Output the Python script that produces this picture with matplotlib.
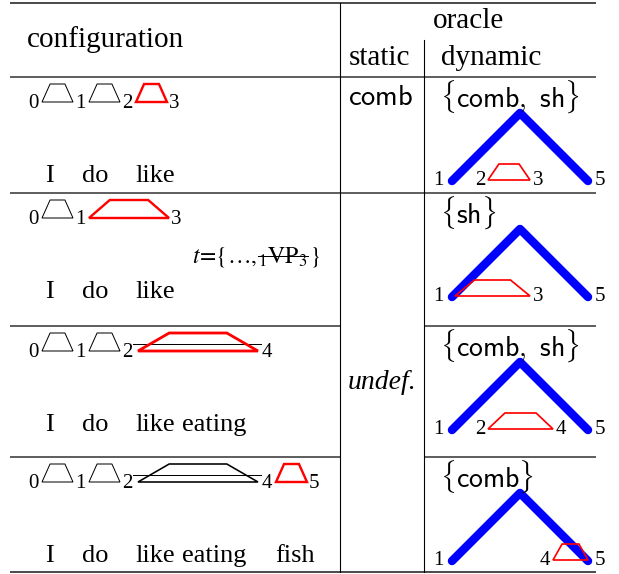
import matplotlib
matplotlib.use("Agg")
import matplotlib.pyplot as plt
from matplotlib.patches import Polygon

# ---------------- data ----------------
header_config = "configuration"
header_oracle = "oracle"
header_sub = ["static", "dynamic"]
words = ["I", "do", "like", "eating", "fish"]
row_word_counts = [3, 3, 4, 5]
# stack / buffer items of each configuration: (start, end, style)
config_items = [
    [(0, 1, "black"), (1, 2, "black"), (2, 3, "red")],
    [(0, 1, "black"), (1, 3, "red")],
    [(0, 1, "black"), (1, 2, "black"), (2, 4, "gap+red")],
    [(0, 1, "black"), (1, 2, "black"), (2, 4, "gap"), (4, 5, "red")],
]
row2_t_parts = [r"$t\!=\!\{\ldots,$", r"${}_{1}\mathrm{VP}_{3}$", r"$\}$"]
static_oracle = ["comb", "undef."]          # row 1 / rows 2-4
dynamic_oracle = [["comb", "sh"], ["sh"], ["comb", "sh"], ["comb"]]
dynamic_span = [(2, 3), (1, 3), (2, 4), (4, 5)]
tent_span = (1, 5)

# ---------------- layout ----------------
W, H = 619, 574
row_tops = [77, 193, 326, 457]
y_top_rule, y_bottom = 2.5, 572
x_left, x_right = 10, 596
x_v1, x_v2 = 340, 424
word_x = [45, 82, 135, 182, 275]
trap_w_default = 31
trap_w_special = {(1, 3): 80, (2, 4): 124}
dyn_pos = {1: 452, 2: 488, 3: 530, 4: 553, 5: 588}
apex_x = 520

RED = "#ff0000"
BLUE = "#0000ff"
RULE = "#3a3a3a"
SERIF = "Liberation Serif"
PX = 0.72  # points per pixel

fig = plt.figure(figsize=(W / 100, H / 100), dpi=100)
ax = fig.add_axes([0, 0, 1, 1])
ax.set_xlim(0, W)
ax.set_ylim(H, 0)
ax.axis("off")


def trap(x0, x1, yb, yt, color, lw, z=3):
    ins = 0.26 * (x1 - x0)
    p = Polygon([(x0, yb), (x0 + ins, yt), (x1 - ins, yt), (x1, yb)], closed=True,
                fill=False, edgecolor=color, linewidth=lw, joinstyle="miter", zorder=z)
    ax.add_patch(p)


# ---------------- rules ----------------
def hline(y, xa, xb, lw=1.6):
    ax.plot([xa, xb], [y, y], color=RULE, lw=lw * PX, solid_capstyle="butt", zorder=1)


hline(y_top_rule, x_left, x_right, 1.8)
hline(row_tops[0], x_left, x_right)
hline(row_tops[1], x_left, x_right)
for y in row_tops[2:]:
    hline(y, x_left, x_v1)
    hline(y, x_v2, x_right)
hline(y_bottom, x_left, x_right, 1.8)
ax.plot([x_v1, x_v1], [y_top_rule, y_bottom], color="black", lw=1.1 * PX, zorder=1)
ax.plot([x_v2, x_v2], [40, y_bottom], color="black", lw=1.1 * PX, zorder=1)

# ---------------- header ----------------
ax.text(27, 47, header_config, family=SERIF, fontsize=21, ha="left", va="baseline")
ax.text(468, 28, header_oracle, family=SERIF, fontsize=21, ha="center", va="baseline")
ax.text(380, 65, header_sub[0], family=SERIF, fontsize=21, ha="center", va="baseline")
ax.text(491, 65, header_sub[1], family=SERIF, fontsize=21, ha="center", va="baseline")

# ---------------- configuration column ----------------
DIG_FS = 15
for r, top in enumerate(row_tops):
    y_dig = top + 31
    yb = y_dig - 6
    yt = yb - 18
    items = config_items[r]
    x = 28
    ax.text(x + 5, y_dig, str(items[0][0]), family=SERIF, fontsize=DIG_FS,
            ha="center", va="baseline")
    x += 10
    for (s, e, style) in items:
        w = trap_w_special.get((s, e), trap_w_default)
        x0 = x + 4
        x1 = x0 + w
        if style == "black":
            trap(x0, x1, yb, yt, "black", 1.0 * PX)
        elif style == "red":
            trap(x0, x1, yb, yt, RED, 2.4 * PX)
        else:
            ym = yb - 0.38 * (yb - yt)
            ax.plot([x0 - 3, x1 + 1], [ym, ym], color="black", lw=1.0 * PX, zorder=2)
            if style == "gap":
                trap(x0 + 2, x1 - 2, yb, yt, "black", 1.6 * PX)
            else:
                trap(x0 + 2, x1 - 2, yb, yt, RED, 2.8 * PX)
        x = x1 + 2
        ax.text(x + 5, y_dig, str(e), family=SERIF, fontsize=DIG_FS,
                ha="center", va="baseline")
        x += 10
    for k in range(row_word_counts[r]):
        ax.text(word_x[k], top + 105, words[k], family=SERIF, fontsize=19,
                ha="left", va="baseline")

# t = {..., 1VP3} with strike-through
fig.canvas.draw()
renderer = fig.canvas.get_renderer()
inv = ax.transData.inverted()
tx = 192
ty = row_tops[1] + 64
for i, part in enumerate(row2_t_parts):
    t = ax.text(tx, ty, part, fontsize=17, ha="left", va="center", math_fontfamily="stix")
    bb = t.get_window_extent(renderer)
    (bx0, by0), (bx1, by1) = inv.transform([[bb.x0, bb.y0], [bb.x1, bb.y1]])
    if i == 1:
        ax.plot([bx0, bx1], [ty - 1, ty - 1], color="black", lw=1.0 * PX, zorder=4)
    tx = bx1 + 1

# ---------------- static column ----------------
ax.text(381, row_tops[0] + 20, r"$\mathsf{" + static_oracle[0] + "}$", math_fontfamily="cm",
        fontsize=20.5, ha="center", va="center")
ax.text(382, (row_tops[1] + y_bottom) / 2, static_oracle[1], family=SERIF, style="italic",
        fontsize=20, ha="center", va="center")

# ---------------- dynamic column ----------------
for r, top in enumerate(row_tops):
    lab = r",\ ".join(dynamic_oracle[r])
    ax.text(440, top + 20, r"$\{\mathsf{" + lab + r"}\}$", math_fontfamily="cm",
            fontsize=20, ha="left", va="center")
    yb = top + 104
    ax.plot([dyn_pos[tent_span[0]], apex_x, dyn_pos[tent_span[1]]], [yb, top + 36, yb],
            color=BLUE, lw=8.5 * PX, solid_capstyle="round", solid_joinstyle="round", zorder=2)
    s, e = dynamic_span[r]
    x0, x1 = dyn_pos[s], dyn_pos[e]
    if s == tent_span[0]:
        x0 += 3
    trap(x0, x1, yb - 1, yb - 17, RED, 1.7 * PX, z=3)
    y_dig = top + 108
    ax.text(dyn_pos[tent_span[0]] - 14, y_dig, str(tent_span[0]), family=SERIF,
            fontsize=DIG_FS, ha="center", va="baseline")
    ax.text(dyn_pos[tent_span[1]] + 12, y_dig, str(tent_span[1]), family=SERIF,
            fontsize=DIG_FS, ha="center", va="baseline")
    if s != tent_span[0]:
        ax.text(x0 - 8, y_dig, str(s), family=SERIF, fontsize=DIG_FS, ha="center", va="baseline")
    if e != tent_span[1]:
        ax.text(x1 + 8, y_dig, str(e), family=SERIF, fontsize=DIG_FS, ha="center", va="baseline")

fig.savefig("out.png", dpi=100)
